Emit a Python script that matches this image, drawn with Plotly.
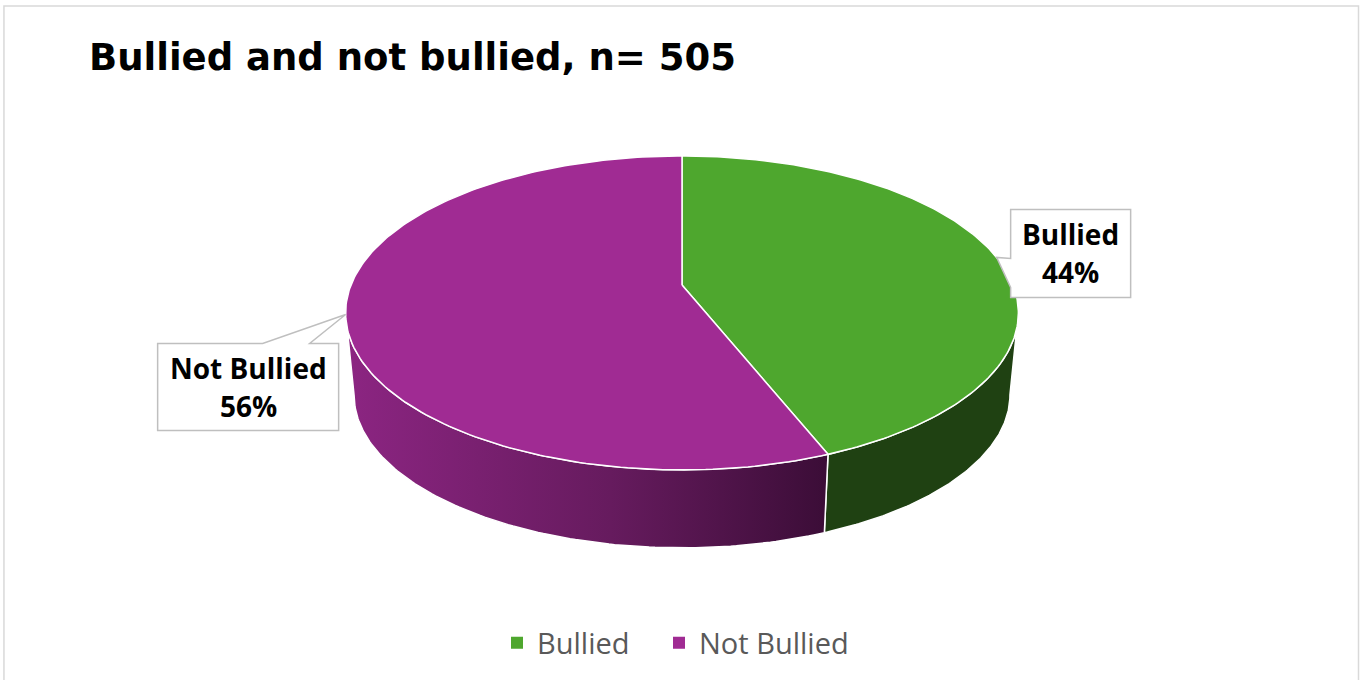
import numpy as np
import plotly.graph_objects as go

# ---- data ----
categories = ["Bullied", "Not Bullied"]
values = [44, 56]
n_total = 505
title_text = "Bullied and not bullied, n= 505"

# ---- styles ----
top_colors = ["#4EA72E", "#A02B93"]
side_scales = [
    [[0, "#1F4112"], [1, "#1F4112"]],
    [[0, "#8C2582"], [0.55, "#661B5E"], [1, "#3B0D37"]],
]
W, H = 1363, 680
legend_left_px = [497, 659]

# projection of the tilted disc (pixel space)
CX, CY = 682, 285
A, B = 331, 152
K = 0.178
CYB, M = 367.6, 0.975


def top_pt(th):
    X, Z = np.sin(th), np.cos(th)
    d = 1 + K * Z
    return CX + A * X / d, CY - B * Z / d


def bot_pt(th):
    X, Z = np.sin(th), np.cos(th)
    d = 1 + K * Z
    return CX + M * A * X / d, CYB - M * B * Z / d


total = float(sum(values))
fracs = [v / total for v in values]
bounds = np.concatenate([[0], np.cumsum(fracs)]) * 2 * np.pi
sil = np.arccos(-K)  # silhouette angle (right side)

fig = go.Figure()

# side walls
for i in range(len(values)):
    a0 = max(bounds[i], sil)
    a1 = min(bounds[i + 1], 2 * np.pi - sil)
    if a1 <= a0:
        continue
    th = np.linspace(a0, a1, 120)
    tx, ty = top_pt(th)
    bx, by = bot_pt(th[::-1])
    xs = np.concatenate([tx, bx, tx[:1]])
    ys = np.concatenate([ty, by, ty[:1]])
    fig.add_trace(go.Scatter(
        x=xs, y=ys, mode="lines", fill="toself",
        fillgradient=dict(type="horizontal", colorscale=side_scales[i]),
        line=dict(color="white", width=1.5),
        hoverinfo="skip", showlegend=False))

# top faces
for i in range(len(values)):
    th = np.linspace(bounds[i], bounds[i + 1], 200)
    ax_, ay_ = top_pt(th)
    xs = np.concatenate([[CX], ax_, [CX]])
    ys = np.concatenate([[CY], ay_, [CY]])
    fig.add_trace(go.Scatter(
        x=xs, y=ys, mode="lines", fill="toself", fillcolor=top_colors[i],
        line=dict(color="white", width=1.5),
        hoverinfo="skip", showlegend=False))

# legend entries (one legend per entry for exact spacing)
legend_layouts = {}
for i, cat in enumerate(categories):
    lname = "legend" if i == 0 else f"legend{i + 1}"
    fig.add_trace(go.Scatter(
        x=[None], y=[None], mode="markers", name=cat, legend=lname,
        marker=dict(symbol="square", size=11, color=top_colors[i])))
    legend_layouts[lname] = dict(
        orientation="h", x=legend_left_px[i] / W, xanchor="left",
        y=1 - 643 / H, yanchor="middle",
        font=dict(family="Open Sans", size=29, color="#595959"),
        itemsizing="constant", bgcolor="rgba(0,0,0,0)")

# data label callouts
shapes = []
annotations = []
label_font = dict(family="Open Sans", size=28, color="black")
for i, cat in enumerate(categories):
    mid = (bounds[i] + bounds[i + 1]) / 2
    px, py = top_pt(mid)
    pct = f"{round(fracs[i] * 100)}%"
    if np.sin(mid) > 0:
        x0, x1 = px + 14, px + 134
        y0, y1 = py - 48, py + 40
        path = (f"M{x0},{y0} L{x1},{y0} L{x1},{y1} L{x0},{y1} "
                f"L{x0},{py + 30} L{px},{py} L{x0},{py + 1} Z")
    else:
        x1, x0 = px - 7, px - 188
        y0, y1 = py + 29, py + 116
        path = (f"M{x0},{y0} L{px - 83},{y0} L{px},{py} L{px - 36},{y0} "
                f"L{x1},{y0} L{x1},{y1} L{x0},{y1} Z")
    shapes.append(dict(type="path", path=path, xref="x", yref="y",
                       fillcolor="white", line=dict(color="#BFBFBF", width=1.5),
                       layer="above"))
    cxl = (x0 + x1) / 2
    annotations.append(dict(x=cxl, y=y0 + 25, xref="x", yref="y", text=f"<b>{cat}</b>",
                            showarrow=False, font=label_font,
                            xanchor="center", yanchor="middle"))
    annotations.append(dict(x=cxl, y=y0 + 63, xref="x", yref="y", text=f"<b>{pct}</b>",
                            showarrow=False, font=label_font,
                            xanchor="center", yanchor="middle"))

# title
annotations.append(dict(x=87, y=57, xref="x", yref="y", text=f"<b>{title_text}</b>",
                        showarrow=False, xanchor="left", yanchor="middle",
                        font=dict(family="DejaVu Sans", size=37, color="black")))

# chart border
shapes.append(dict(type="rect", xref="paper", yref="paper", x0=0.0029, x1=0.9967,
                   y0=-0.01, y1=0.9912, line=dict(color="#D9D9D9", width=1.5),
                   fillcolor="rgba(0,0,0,0)", layer="below"))

fig.update_layout(
    width=W, height=H, margin=dict(l=0, r=0, t=0, b=0),
    paper_bgcolor="white", plot_bgcolor="white",
    xaxis=dict(range=[0, W], visible=False, fixedrange=True),
    yaxis=dict(range=[H, 0], visible=False, fixedrange=True),
    shapes=shapes, annotations=annotations,
    **legend_layouts,
)

fig.write_html("out.html", config={"displayModeBar": False},
               post_script="document.body.style.margin='0';")
